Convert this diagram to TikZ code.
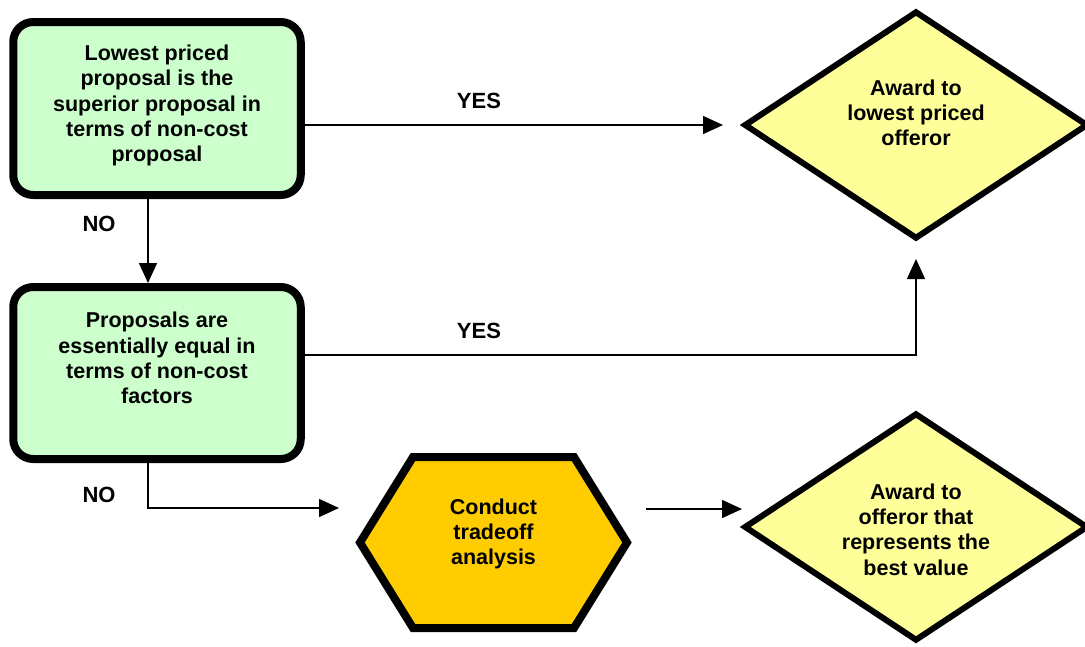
\documentclass[tikz,border=0pt]{standalone}
\usepackage{fontspec}
\setmainfont{Liberation Sans}
\usetikzlibrary{shapes.geometric,arrows.meta}
\definecolor{boxgreen}{HTML}{CCFFCC}
\definecolor{diayellow}{HTML}{FFFF99}
\definecolor{hexorange}{HTML}{FFCC00}
\begin{document}
\begin{tikzpicture}[x=1pt,y=-1pt,
  decbox/.style={draw=black,line width=8pt,fill=boxgreen,rounded corners=20pt,
    minimum width=287.5pt,minimum height=173pt,inner sep=0pt},
  award/.style={diamond,draw=black,line width=6pt,fill=diayellow,
    minimum width=344pt,minimum height=228pt,inner sep=0pt},
  txt/.style={font=\bfseries\fontsize{21.5}{25.3}\selectfont,align=center,inner sep=0pt},
  lbl/.style={font=\bfseries\fontsize{22}{24}\selectfont,inner sep=0pt},
  conn/.style={line width=1.5pt,-{Triangle[length=20pt,width=18pt]}},
  plain/.style={line width=1.5pt}]
\useasboundingbox (0,0) rectangle (1085,646);
\fill[white] (0,0) rectangle (1085,646);

% decision boxes
\node[decbox] (b1) at (157,108.5) {};
\node[txt] (b1t) at (157,105.5) {Lowest priced\\proposal is the\\superior proposal in\\terms of non-cost\\proposal};
\node[decbox,minimum height=172pt] (b2) at (157,373) {};
\node[txt] (b2t) at (157,358) {Proposals are\\essentially equal in\\terms of non-cost\\factors};

% award diamonds
\node[award] (d1) at (916,125) {};
\node[txt] (d1t) at (916,113) {Award to\\lowest priced\\offeror};
\node[award] (d2) at (916,527) {};
\node[txt] (d2t) at (916,529.5) {Award to\\offeror that\\represents the\\best value};

% hexagon
\draw[line width=8pt,fill=hexorange,line join=miter]
  (360,542.5) -- (413,457) -- (574,457) -- (627,542.5) -- (574,628) -- (413,628) -- cycle;
\node[txt] (hx) at (493.5,534) {Conduct\\tradeoff\\analysis};

% connector end points
\coordinate (a1) at (723,125);
\coordinate (nx) at (148,0);
\coordinate (c2) at (916,355);
\coordinate (a2) at (916,259);
\coordinate (c3) at (148,508);
\coordinate (a3) at (339,508);
\coordinate (s4) at (646,509);
\coordinate (a4) at (742,509);

% connectors
\draw[conn] (b1.east |- a1) -- (a1);
\draw[conn] (b1.south -| nx) -- (b2.north -| nx);
\draw[conn] (b2.east |- c2) -- (c2) -- (a2);
\draw[conn] (b2.south -| c3) -- (c3) -- (a3);
\draw[conn] (s4) -- (a4);

% labels
\node[lbl] (y1) at (479,101) {YES};
\node[lbl] (y2) at (479,331) {YES};
\node[lbl] (n1) at (99,224) {NO};
\node[lbl] (n2) at (99,495) {NO};
\end{tikzpicture}
\end{document}
